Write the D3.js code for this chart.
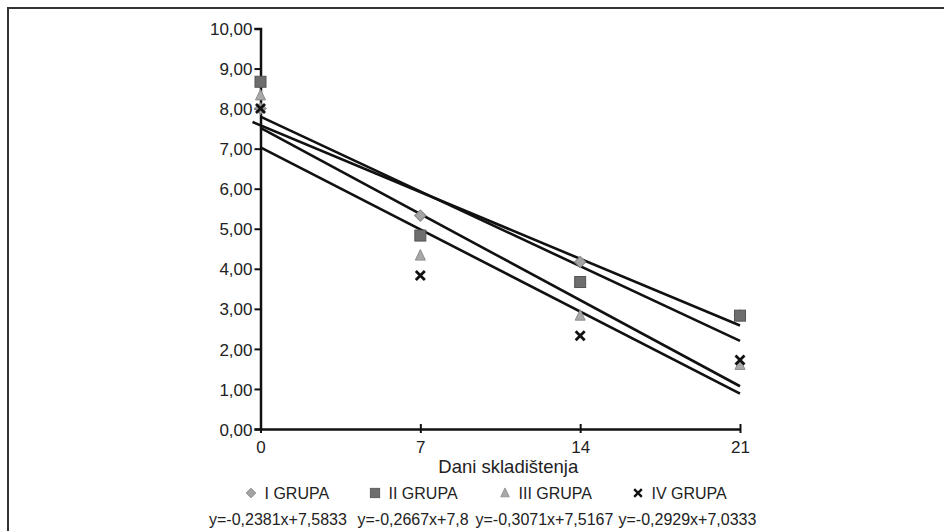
<!DOCTYPE html>
<html>
<head>
<meta charset="utf-8">
<script src="https://cdn.jsdelivr.net/npm/d3@7"></script>
<style>
  body { margin: 0; background: #fff; }
  svg { display: block; font-family: "Liberation Sans", Arial, sans-serif; }
</style>
</head>
<body>
<svg width="944" height="531"></svg>
<script>
var days = [0, 7, 14, 21];
var groups = ["I GRUPA", "II GRUPA", "III GRUPA", "IV GRUPA"];
var grupa1 = [8.00, 5.33, 4.17, 2.83];
var grupa2 = [8.67, 4.83, 3.67, 2.83];
var grupa3 = [8.33, 4.33, 2.83, 1.60];
var grupa4 = [8.00, 3.83, 2.33, 1.72];
var slopes = [-0.2381, -0.2667, -0.3071, -0.2929];
var intercepts = [7.5833, 7.8, 7.5167, 7.0333];
var trendStart = [-0.35, 0, 0, 0];
var yTicks = [0, 1, 2, 3, 4, 5, 6, 7, 8, 9, 10];

var values = [grupa1, grupa2, grupa3, grupa4];

var svg = d3.select("svg");

// frame round the figure
svg.append("rect")
    .attr("x", 8).attr("y", 8)
    .attr("width", 960).attr("height", 560)
    .attr("fill", "none")
    .attr("stroke", "#333")
    .attr("stroke-width", 2);

var x = d3.scaleLinear().domain([0, 21]).range([260.5, 740]);
var y = d3.scaleLinear().domain([0, 10]).range([429, 28.5]);

var loc = d3.formatLocale({ decimal: ",", thousands: ".", grouping: [3], currency: ["", ""] });
var fmt = loc.format(".2f");

var yAxis = svg.append("g")
    .attr("transform", "translate(" + x(0) + ",0)")
    .call(d3.axisLeft(y).tickValues(yTicks).tickFormat(fmt).tickSize(6).tickPadding(2));

var xAxis = svg.append("g")
    .attr("transform", "translate(0," + y(0) + ")")
    .call(d3.axisBottom(x).tickValues(days).tickSizeInner(-5).tickSizeOuter(0).tickPadding(9));

// cross the x ticks a little under the axis too
xAxis.selectAll(".tick").append("line")
    .attr("y1", 0).attr("y2", 4)
    .attr("stroke", "#111").attr("stroke-width", 2);

[yAxis, xAxis].forEach(function(g) {
    g.select(".domain").attr("stroke", "#111").attr("stroke-width", 2.5);
    g.selectAll(".tick line").attr("stroke", "#111").attr("stroke-width", 2);
    g.selectAll(".tick text").attr("fill", "#222").style("font-size", "17px");
});
xAxis.selectAll(".tick text").attr("dy", "0.9em");
yAxis.selectAll(".tick text").attr("dy", "0.36em");

svg.append("text")
    .attr("x", (x(0) + x(21)) / 2 + 8)
    .attr("y", 473)
    .attr("text-anchor", "middle")
    .attr("fill", "#222")
    .style("font-size", "18.5px")
    .text("Dani skladištenja");

// trend lines
var trends = svg.append("g");
groups.forEach(function(g, i) {
    var x0 = trendStart[i];
    trends.append("line")
        .attr("x1", x(x0)).attr("y1", y(intercepts[i] + slopes[i] * x0))
        .attr("x2", x(21)).attr("y2", y(intercepts[i] + slopes[i] * 21))
        .attr("stroke", "#111")
        .attr("stroke-width", 2.6);
});

// marker shapes
function drawMarker(sel, i) {
    if (i === 0) {
        sel.append("rect")
            .attr("x", -4).attr("y", -4).attr("width", 8).attr("height", 8)
            .attr("transform", "rotate(45)")
            .attr("fill", "#a4a4a4").attr("stroke", "#858585").attr("stroke-width", 1);
    } else if (i === 1) {
        sel.append("rect")
            .attr("x", -5.5).attr("y", -5.5).attr("width", 11).attr("height", 11)
            .attr("fill", "#6e6e6e").attr("stroke", "#555").attr("stroke-width", 1);
    } else if (i === 2) {
        sel.append("path")
            .attr("d", "M0,-6L5,4.5L-5,4.5Z")
            .attr("fill", "#a8a8a8").attr("stroke", "#8c8c8c").attr("stroke-width", 1);
    } else {
        sel.append("path")
            .attr("d", "M-4.5,-4.5L4.5,4.5M-4.5,4.5L4.5,-4.5")
            .attr("stroke", "#111").attr("stroke-width", 2.8).attr("fill", "none");
    }
}

groups.forEach(function(g, i) {
    var pts = svg.append("g").selectAll("g")
        .data(values[i])
        .enter().append("g")
        .attr("transform", function(d, j) { return "translate(" + x(days[j]) + "," + y(d) + ")"; });
    pts.each(function() { drawMarker(d3.select(this), i); });
});

// legend
var legendX = [251, 375, 505, 638];
groups.forEach(function(g, i) {
    var item = svg.append("g").attr("transform", "translate(" + legendX[i] + ",493)");
    drawMarker(item.append("g").attr("transform", "scale(0.85)"), i);
    item.append("text")
        .attr("x", 13.5).attr("y", 6)
        .attr("fill", "#222")
        .style("font-size", "16px")
        .text(g);
});

// equations
var eqX = [209, 357.5, 475.5, 618.5];
var eqFmt = loc.format(".4~f");
groups.forEach(function(g, i) {
    svg.append("text")
        .attr("x", eqX[i]).attr("y", 525)
        .attr("fill", "#222")
        .style("font-size", "16px")
        .text("y=" + eqFmt(slopes[i]).replace("\u2212", "-") + "x+" + eqFmt(intercepts[i]));
});
</script>
</body>
</html>
